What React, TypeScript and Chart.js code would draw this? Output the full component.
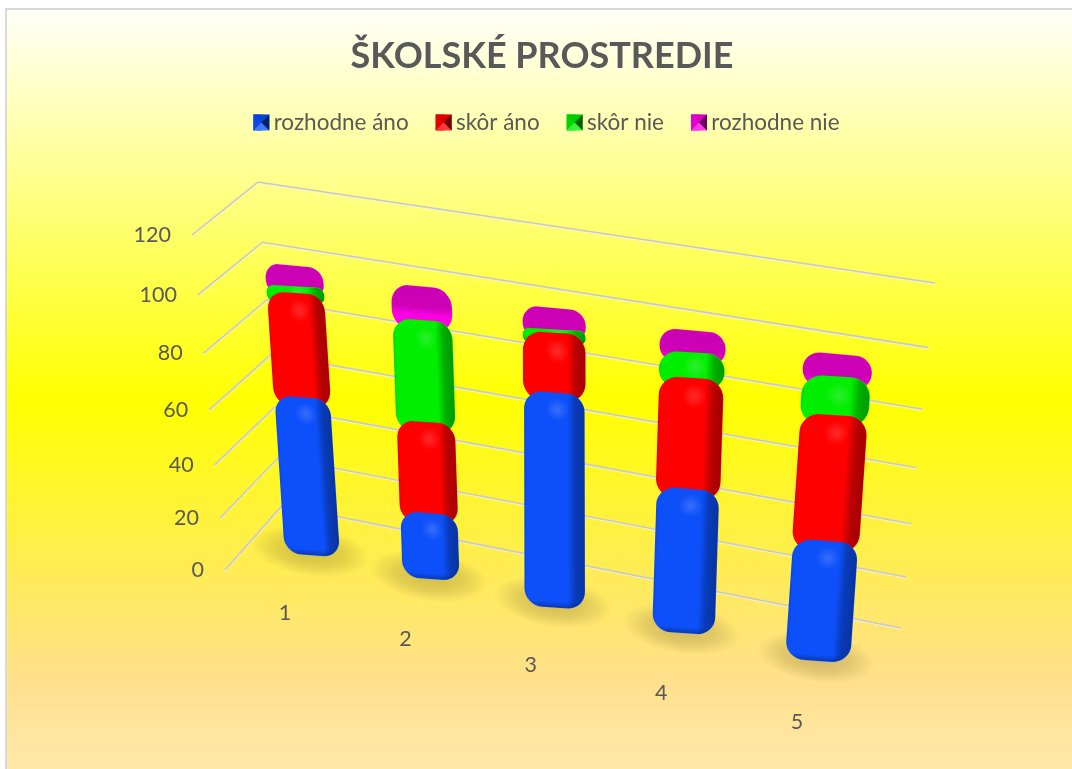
import React, { useEffect, useRef } from "react";
import { Chart, registerables } from "chart.js";

Chart.register(...registerables);

const categories = ["1", "2", "3", "4", "5"];
const rozhodneAno = [55, 21, 73, 48, 39];
const skorAno = [36, 33, 19, 37, 42];
const skorNie = [2, 35, 1, 8, 12];
const rozhodneNie = [7, 11, 7, 7, 7];

const TEXT = "#595959";
const FONT = "Lato";
const RADIUS = 18;
const OVERLAP = 5;
const TILT = 0.35;
const TOP_TILT = 0.55;

type Pt = [number, number];

function homography(p0: Pt, p1: Pt, p2: Pt, p3: Pt) {
  const dx1 = p1[0] - p2[0], dx2 = p3[0] - p2[0], sx = p0[0] - p1[0] + p2[0] - p3[0];
  const dy1 = p1[1] - p2[1], dy2 = p3[1] - p2[1], sy = p0[1] - p1[1] + p2[1] - p3[1];
  const det = dx1 * dy2 - dx2 * dy1;
  const g = (sx * dy2 - dx2 * sy) / det;
  const h = (dx1 * sy - sx * dy1) / det;
  const a = p1[0] - p0[0] + g * p1[0], b = p3[0] - p0[0] + h * p3[0], c = p0[0];
  const d = p1[1] - p0[1] + g * p1[1], e = p3[1] - p0[1] + h * p3[1], f = p0[1];
  return (u: number, v: number): Pt => {
    const w = g * u + h * v + 1;
    return [(a * u + b * v + c) / w, (d * u + e * v + f) / w];
  };
}

// Projection planes: the plane of the bars and the back wall.
const barPlane = homography([312, 549], [818, 655], [838, 360], [294, 271]);
const backWall = homography([282, 505.6], [901, 628], [935, 283], [258, 182]);
const warpBack = (v: number) => v - 0.05 * v * (1 - v);
const sideFront = (v: number): Pt => {
  const w = v - 0.088 * v * (1 - v);
  return [225 + (192 - 225) * w, 570 + (235 - 570) * w];
};

function mapper(chart: any) {
  const xs = chart.scales.x, ys = chart.scales.y;
  const x0 = xs.getPixelForValue(0), x1 = xs.getPixelForValue(categories.length - 1);
  const y0 = ys.getPixelForValue(0), y100 = ys.getPixelForValue(100);
  return (px: number, py: number): Pt =>
    barPlane((px - x0) / (x1 - x0), (y0 - py) / (y0 - y100));
}

function shadeBar(ctx: CanvasRenderingContext2D, el: any, isTop: boolean) {
  const w = el.width, l = el.x - w / 2, t = el.y, h = el.base - el.y;
  const r = Math.min(RADIUS, w / 2, h / 2);
  ctx.save();
  ctx.beginPath();
  ctx.roundRect(l, t, w, h, r);
  ctx.clip();
  if (isTop) {
    const g = ctx.createLinearGradient(0, t, 0, t + 28);
    g.addColorStop(0, "rgba(60,0,40,0.27)");
    g.addColorStop(0.68, "rgba(60,0,40,0.25)");
    g.addColorStop(1, "rgba(60,0,40,0)");
    ctx.fillStyle = g;
    ctx.fillRect(l, t, w, h);
  } else {
    const g = ctx.createLinearGradient(l, 0, l + w, 0);
    g.addColorStop(0, "rgba(0,0,0,0.12)");
    g.addColorStop(0.04, "rgba(0,0,0,0)");
    g.addColorStop(0.72, "rgba(0,0,0,0)");
    g.addColorStop(0.84, "rgba(0,0,0,0.26)");
    g.addColorStop(1, "rgba(0,0,0,0.36)");
    ctx.fillStyle = g;
    ctx.fillRect(l, t, w, h);
    const b = ctx.createLinearGradient(0, t + h - 6, 0, t + h);
    b.addColorStop(0, "rgba(0,0,0,0)");
    b.addColorStop(1, "rgba(0,0,0,0.28)");
    ctx.fillStyle = b;
    ctx.fillRect(l, t + h - 6, w, 6);
    const hx = el.x + w * 0.05, hy = t + Math.min(17, h * 0.4);
    const s = ctx.createRadialGradient(hx, hy, 0, hx, hy, 12);
    s.addColorStop(0, "rgba(255,255,255,0.17)");
    s.addColorStop(1, "rgba(255,255,255,0)");
    ctx.fillStyle = s;
    ctx.fillRect(hx - 12, hy - 12, 24, 24);
  }
  ctx.restore();
}

const projection = {
  id: "projection",
  afterLayout(chart: any) {
    chart.legend.left += 4.5;
    chart.legend.right += 4.5;
  },
  beforeDraw(chart: any) {
    const { ctx, width, height } = chart;
    ctx.save();
    ctx.fillStyle = "#ffffff";
    ctx.fillRect(0, 0, width, height);
    const g = ctx.createLinearGradient(0, 9, 0, 769);
    g.addColorStop(0, "#fffffa");
    g.addColorStop((400 - 9) / 760, "#ffff00");
    g.addColorStop((685 - 9) / 760, "#ffe08f");
    g.addColorStop(1, "#ffe8a8");
    ctx.fillStyle = g;
    ctx.fillRect(7, 10, width, height);
    ctx.fillStyle = "#d9d9d9";
    ctx.fillRect(5, 8, width, 2);
    ctx.fillRect(5, 8, 2, height);
    ctx.restore();
  },
  beforeDatasetsDraw(chart: any) {
    const { ctx } = chart;
    const ys = chart.scales.y, xs = chart.scales.x;
    const y0 = ys.getPixelForValue(0), yTop = ys.getPixelForValue(ys.max);
    ctx.save();
    // Gridlines and value labels
    ctx.font = `21.5px ${FONT}`;
    ctx.textAlign = "right";
    ctx.textBaseline = "middle";
    for (const tick of ys.ticks) {
      const v = (y0 - ys.getPixelForValue(tick.value)) / (y0 - yTop);
      const a = sideFront(v), b = backWall(0, warpBack(v)), c = backWall(1, warpBack(v));
      for (const [col, off, lw] of [["#f1f1e4", 1.1, 1.3], ["#c9c9c2", 0, 1.6]] as [string, number, number][]) {
        ctx.strokeStyle = col;
        ctx.lineWidth = lw;
        ctx.beginPath();
        ctx.moveTo(a[0], a[1] + off);
        ctx.lineTo(b[0], b[1] + off);
        ctx.lineTo(c[0], c[1] + off);
        ctx.stroke();
      }
      ctx.fillStyle = TEXT;
      ctx.fillText(String(tick.value), a[0] - 21, a[1]);
    }
    // Category labels and floor shadows
    const map = mapper(chart);
    ctx.textAlign = "center";
    categories.forEach((label, i) => {
      const px = xs.getPixelForValue(i);
      const p = map(px, y0);
      const u = i / (categories.length - 1);
      ctx.fillStyle = TEXT;
      ctx.fillText(label, p[0] - 27 + 6 * u, p[1] + 64 + 3 * u);
      ctx.save();
      ctx.translate(p[0] - 2, p[1] + 2);
      ctx.rotate(0.15);
      ctx.scale(1, 0.42);
      const s = ctx.createRadialGradient(0, 0, 8, 0, 0, 60);
      s.addColorStop(0, "rgba(110,90,40,0.3)");
      s.addColorStop(0.5, "rgba(110,90,40,0.2)");
      s.addColorStop(1, "rgba(110,90,40,0)");
      ctx.fillStyle = s;
      ctx.beginPath();
      ctx.arc(0, 0, 60, 0, Math.PI * 2);
      ctx.fill();
      ctx.restore();
    });
    ctx.restore();
  },
  beforeDatasetDraw(chart: any, args: any) {
    const { ctx } = chart;
    const map = mapper(chart);
    const meta = chart.getDatasetMeta(args.index);
    const isTop = args.index === chart.data.datasets.length - 1;
    meta.data.forEach((el: any) => {
      const cx = el.x, cy = (el.y + el.base) / 2;
      const p = map(cx, cy), px = map(cx + 1, cy), py = map(cx, cy + 1);
      const tilt = isTop ? TOP_TILT : TILT;
      const a = px[0] - p[0], b = (px[1] - p[1]) * tilt, c = py[0] - p[0], d = py[1] - p[1];
      const oy = el.y, ob = el.base;
      el.y = oy - OVERLAP;
      el.base = ob + OVERLAP;
      ctx.save();
      ctx.transform(a, b, c, d, p[0] - a * cx - c * cy, p[1] - b * cx - d * cy);
      el.draw(ctx);
      shadeBar(ctx, el, isTop);
      ctx.restore();
      el.y = oy;
      el.base = ob;
    });
    return false;
  },
  afterDraw(chart: any) {
    const { ctx } = chart;
    chart.legend.legendHitBoxes.forEach((box: any, i: number) => {
      const col = chart.data.datasets[i].backgroundColor;
      const x = box.left, y = box.top + box.height / 2 - 8, s = 16;
      const cx = x + s / 2, cy = y + s / 2;
      const tris: [Pt, Pt, string][] = [
        [[x, y], [x + s, y], "rgba(0,0,0,0.15)"],
        [[x + s, y], [x + s, y + s], "rgba(0,0,0,0.6)"],
        [[x + s, y + s], [x, y + s], "rgba(255,255,255,0.22)"],
        [[x, y + s], [x, y], "rgba(0,0,0,0.1)"],
      ];
      ctx.save();
      ctx.fillStyle = col;
      ctx.fillRect(x, y, s, s);
      for (const [a, b, f] of tris) {
        ctx.fillStyle = f;
        ctx.beginPath();
        ctx.moveTo(a[0], a[1]);
        ctx.lineTo(b[0], b[1]);
        ctx.lineTo(cx, cy);
        ctx.closePath();
        ctx.fill();
      }
      ctx.restore();
    });
  },
};

export default function App() {
  const ref = useRef<HTMLCanvasElement>(null);
  useEffect(() => {
    const radius = { topLeft: RADIUS, topRight: RADIUS, bottomLeft: RADIUS, bottomRight: RADIUS };
    const make = (label: string, data: number[], color: string) => ({
      label,
      data,
      backgroundColor: color,
      borderWidth: 0,
      borderSkipped: false,
      borderRadius: radius,
      barThickness: 61,
    });
    const chart = new Chart(ref.current as HTMLCanvasElement, {
      type: "bar",
      data: {
        labels: categories,
        datasets: [
          make("rozhodne áno", rozhodneAno, "#0d50fa"),
          make("skôr áno", skorAno, "#ff0000"),
          make("skôr nie", skorNie, "#00ee00"),
          make("rozhodne nie", rozhodneNie, "#ff00e6"),
        ],
      },
      options: {
        responsive: false,
        animation: false,
        devicePixelRatio: 1,
        layout: { padding: { left: 212, right: 212, bottom: 281, top: 35 } },
        scales: {
          x: { display: false, stacked: true },
          y: { display: false, stacked: true, min: 0, max: 120, ticks: { stepSize: 20 } },
        },
        plugins: {
          tooltip: { enabled: false },
          title: {
            display: true,
            text: "ŠKOLSKÉ PROSTREDIE",
            color: TEXT,
            font: { family: FONT, size: 36, weight: "bold" },
            padding: { top: 0, bottom: 6 },
          },
          legend: {
            position: "top",
            labels: {
              color: TEXT,
              font: { family: FONT, size: 22.5 },
              boxWidth: 9,
              boxHeight: 16,
              padding: 27,
            },
          },
        },
      },
      plugins: [projection],
    } as any);
    return () => chart.destroy();
  }, []);
  return (
    <div style={{ position: "fixed", left: 0, top: 0, width: 1072, height: 769, overflow: "hidden", background: "#fff" }}>
      <canvas ref={ref} width={1084} height={769} style={{ display: "block" }} />
    </div>
  );
}
